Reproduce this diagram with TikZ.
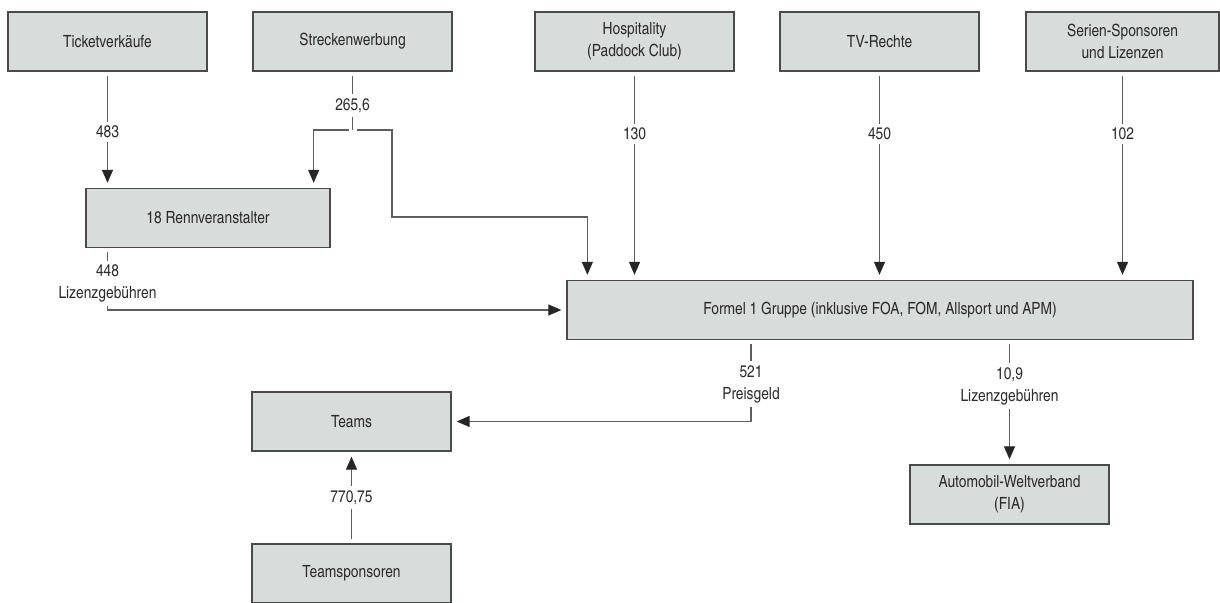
\documentclass[tikz,border=0pt]{standalone}
\usepackage{fontspec}
\setmainfont{texgyreheroscn}[Extension=.otf,UprightFont=*-regular,BoldFont=*-bold]
\usepackage{tikz}
\usetikzlibrary{arrows.meta}

\definecolor{boxfill}{HTML}{D8DCDB}
\definecolor{boxline}{HTML}{4A4A4A}
\definecolor{flowline}{HTML}{5E5E5E}
\definecolor{txt}{HTML}{2B2B2B}

\begin{document}
\begin{tikzpicture}[x=0.5pt,y=-0.5pt,
  font=\fontsize{8.4}{11}\selectfont,
  box/.style={draw=boxline,fill=boxfill,line width=0.65pt,minimum width=99.5pt,
    minimum height=29.5pt,inner sep=0pt,align=center,text=txt},
  plain/.style={draw=flowline,line width=0.55pt,shorten <=2pt},
  flow/.style={plain,shorten >=2.5pt,-{Triangle[length=6.5pt,width=5.5pt,color=black!85]}},
  lbl/.style={fill=white,inner sep=2pt,align=center,text=txt}]
\useasboundingbox (0,0) rectangle (1220,603);
% sources
\node[box] (ticket) at (107.5,41.5) {Ticketverkäufe};
\node[box] (streck) at (352.5,41.5) {Streckenwerbung};
\node[box] (hosp) at (634.5,41.5) {Hospitality\\(Paddock Club)};
\node[box] (tv) at (879.5,41.5) {TV-Rechte};
\node[box,minimum width=96.5pt] (serien) at (1122.5,41.5) {Serien-Sponsoren\\und Lizenzen};
% middle
\node[box,minimum width=122pt] (rennv) at (208,218) {18 Rennveranstalter};
\node[box,minimum width=313pt] (formel) at (880,310) {Formel 1 Gruppe (inklusive FOA, FOM, Allsport und APM)};
% bottom
\node[box] (teams) at (351.5,421.5) {Teams};
\node[box] (tspons) at (351.5,573.5) {Teamsponsoren};
\node[box] (fia) at (1009.5,494.5) {Automobil-Weltverband\\(FIA)};
\coordinate (swsplit) at (352.5,130);
\coordinate (swturn) at (392,217);
% flows
\draw[flow] (ticket) -- node[lbl,pos=0.52]{483} (ticket |- rennv.north);
\draw[plain] (streck) -- node[lbl,pos=0.58]{265,6} (swsplit);
\draw[flow] (swsplit) -| ([xshift=-8.5pt]rennv.north east);
\draw[flow] (swsplit) -| (swturn) -| ([xshift=10.5pt]formel.north west);
\draw[flow] (hosp) -- node[lbl,pos=0.3]{130} (hosp |- formel.north);
\draw[flow] (tv) -- node[lbl,pos=0.3]{450} (tv |- formel.north);
\draw[flow] (serien) -- node[lbl,pos=0.3]{102} (serien |- formel.north);
\draw[flow] (rennv.south -| ticket) |- node[lbl,pos=0.285]{448\\Lizenzgebühren} (formel);
\draw[flow] ([xshift=-64.5pt]formel.south) |- node[lbl,pos=0.27]{521\\Preisgeld} (teams);
\draw[flow] (fia |- formel.south) -- node[lbl,pos=0.37]{10,9\\Lizenzgebühren} (fia);
\draw[flow] (tspons) -- node[lbl]{770,75} (teams);
\end{tikzpicture}
\end{document}
